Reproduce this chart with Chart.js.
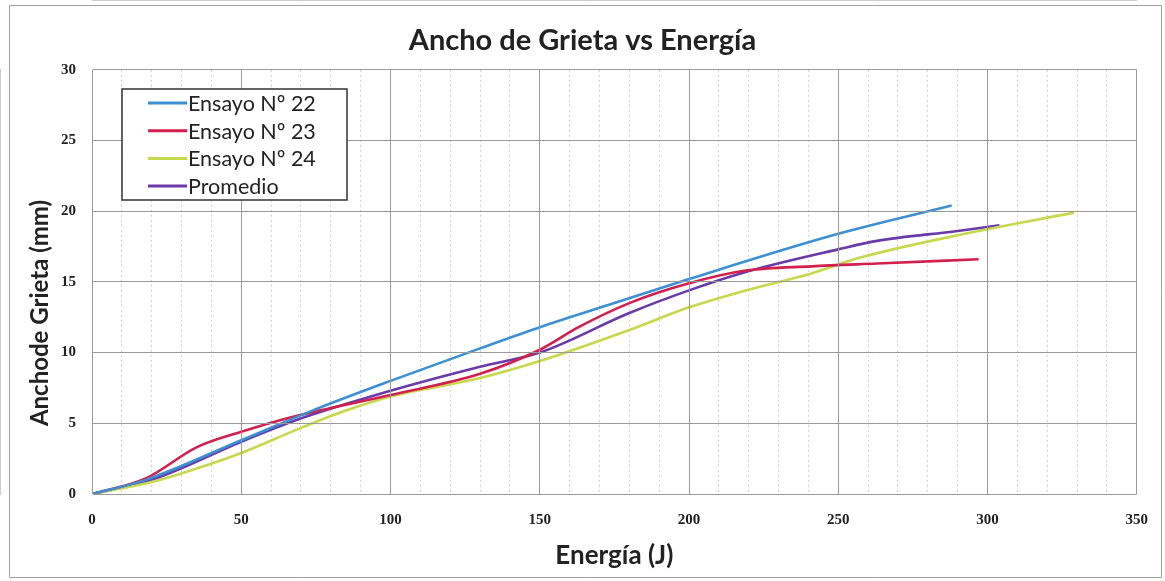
<!DOCTYPE html>
<html>
<head>
<meta charset="utf-8">
<script src="https://cdn.jsdelivr.net/npm/chart.js@4.4.0/dist/chart.umd.min.js"></script>
<style>
  html, body { margin: 0; padding: 0; background: #fff; overflow: hidden; }
  #wrap { width: 1165px; height: 581px; }
  canvas { display: block; }
</style>
</head>
<body>
<div id="wrap"><canvas id="c" width="1165" height="581"></canvas></div>
<script>
// ---- Data ----
const chartTitle = 'Ancho de Grieta vs Energía';
const xTitle = 'Energía (J)';
const yTitle = 'Anchode Grieta (mm)';
const seriesLabels = ['Ensayo Nº 22', 'Ensayo Nº 23', 'Ensayo Nº 24', 'Promedio'];
const seriesColors = ['#3d8fd4', '#d2204e', '#c6d84c', '#6a3aa8'];

const e22Energy = [0, 18, 50, 75, 100, 130, 150, 175, 200, 250, 288];
const e22Width  = [0, 1.0, 3.8, 6.0, 8.0, 10.3, 11.8, 13.5, 15.2, 18.4, 20.4];

const e23Energy = [0, 18, 35, 50, 68, 100, 130, 150, 163, 180, 200, 219, 241, 263, 297];
const e23Width  = [0, 1.1, 3.3, 4.4, 5.5, 7.0, 8.5, 10.2, 11.8, 13.5, 14.9, 15.8, 16.1, 16.3, 16.6];

const e24Energy = [0, 20, 35, 50, 68, 85, 100, 130, 150, 180, 200, 219, 241, 257, 290, 329];
const e24Width  = [0, 0.85, 1.8, 2.9, 4.5, 5.9, 6.9, 8.2, 9.4, 11.6, 13.2, 14.4, 15.6, 16.7, 18.3, 19.9];

const avgEnergy = [0, 20, 50, 68, 100, 130, 150, 180, 200, 219, 250, 263, 290, 304];
const avgWidth  = [0, 1.0, 3.7, 5.2, 7.3, 9.0, 10.0, 12.8, 14.4, 15.7, 17.3, 17.9, 18.6, 19.0];

const xMin = 0, xMax = 350, xStep = 50, xMinorStep = 10;
const yMin = 0, yMax = 30, yStep = 5;

// ---- Build datasets ----
function pts(xs, ys) { return xs.map((x, i) => ({ x: x, y: ys[i] })); }
const seriesPoints = [
  pts(e22Energy, e22Width),
  pts(e23Energy, e23Width),
  pts(e24Energy, e24Width),
  pts(avgEnergy, avgWidth)
];
const datasets = seriesLabels.map((lab, i) => ({
  label: lab,
  data: seriesPoints[i],
  borderColor: seriesColors[i],
  backgroundColor: seriesColors[i],
  borderWidth: 2.6,
  pointRadius: 0,
  cubicInterpolationMode: 'monotone',
  fill: false,
  xAxisID: 'x',
  yAxisID: 'y'
}));

// ---- Plugins ----
const frame = {
  id: 'frame',
  beforeDraw(chart) {
    const ctx = chart.ctx;
    ctx.save();
    ctx.fillStyle = '#ffffff';
    ctx.fillRect(0, 0, chart.width, chart.height);
    ctx.restore();
  },
  afterDraw(chart) {
    const ctx = chart.ctx;
    ctx.save();
    ctx.strokeStyle = '#a0a0a0';
    ctx.lineWidth = 1;
    ctx.beginPath();
    ctx.moveTo(9.5, 5.5);
    ctx.lineTo(1161.5, 5.5);
    ctx.lineTo(1161.5, 577.5);
    ctx.lineTo(9.5, 577.5);
    ctx.closePath();
    ctx.stroke();
    ctx.restore();
  }
};

const boxLegend = {
  id: 'boxLegend',
  afterDraw(chart) {
    const ctx = chart.ctx;
    const bx = 122, by = 89, bw = 225, bh = 111;
    ctx.save();
    ctx.fillStyle = '#ffffff';
    ctx.fillRect(bx, by, bw, bh);
    ctx.strokeStyle = '#333333';
    ctx.lineWidth = 1.5;
    ctx.strokeRect(bx, by, bw, bh);
    ctx.font = '21.5px Lato, "Liberation Sans", sans-serif';
    ctx.textBaseline = 'middle';
    ctx.textAlign = 'left';
    chart.data.datasets.forEach((ds, i) => {
      const cy = 103 + i * 27.7;
      ctx.strokeStyle = ds.borderColor;
      ctx.lineWidth = 3;
      ctx.beginPath();
      ctx.moveTo(148, cy);
      ctx.lineTo(187, cy);
      ctx.stroke();
      ctx.fillStyle = '#222222';
      ctx.fillText(ds.label, 188, cy + 1);
    });
    ctx.restore();
  }
};

// y-axis title drawn rotated at the reference's position
const yAxisTitle = {
  id: 'yAxisTitle',
  afterDraw(chart) {
    const ctx = chart.ctx;
    ctx.save();
    ctx.translate(40, 313);
    ctx.rotate(-Math.PI / 2);
    ctx.font = 'bold 24px Lato, "Liberation Sans", sans-serif';
    ctx.fillStyle = '#222222';
    ctx.textAlign = 'center';
    ctx.textBaseline = 'middle';
    ctx.fillText(yTitle, 0, 0);
    ctx.restore();
  }
};

const tickFont = { family: '"Liberation Serif", "DejaVu Serif", serif', size: 15, weight: 'bold' };

new Chart(document.getElementById('c'), {
  type: 'line',
  data: { datasets: datasets },
  options: {
    responsive: false,
    animation: false,
    layout: { padding: { left: 0, right: 0, top: 0, bottom: 0 } },
    plugins: {
      legend: { display: false },
      tooltip: { enabled: false },
      title: {
        display: true,
        text: chartTitle,
        color: '#222222',
        font: { family: 'Lato, "Liberation Sans", sans-serif', size: 29, weight: 'bold' },
        padding: { top: 23, bottom: 12 }
      }
    },
    scales: {
      x: {
        type: 'linear',
        position: 'bottom',
        min: xMin, max: xMax,
        ticks: { stepSize: xStep, font: tickFont, color: '#222', padding: 17, maxRotation: 0 },
        grid: { color: '#9a9a9a', lineWidth: 1, drawTicks: false, z: 1 },
        border: { display: true, color: '#9a9a9a' },
        title: { display: true, text: xTitle, color: '#222',
                 font: { family: 'Lato, "Liberation Sans", sans-serif', size: 26, weight: 'bold' },
                 padding: { top: 0, bottom: 10 } },
        afterFit(s) { s.height = 87; }
      },
      xMinor: {
        type: 'linear',
        position: 'bottom',
        min: xMin, max: xMax,
        ticks: { display: false, stepSize: xMinorStep },
        grid: { color: '#cfcfcf', lineWidth: 1, drawTicks: false },
        border: { display: false, dash: [2, 3] },
        afterFit(s) { s.height = 0; }
      },
      y: {
        type: 'linear',
        position: 'left',
        min: yMin, max: yMax,
        ticks: { stepSize: yStep, font: tickFont, color: '#222', padding: 16 },
        grid: { color: '#9a9a9a', lineWidth: 1, drawTicks: false, z: 1 },
        border: { display: true, color: '#9a9a9a' },
        title: { display: false, text: yTitle },
        afterFit(s) { s.width = 92; }
      },
      yRight: {
        type: 'linear',
        position: 'right',
        display: true,
        ticks: { display: false },
        grid: { display: false, drawOnChartArea: false, drawTicks: false },
        border: { display: false },
        afterFit(s) { s.width = 25; }
      }
    }
  },
  plugins: [frame, boxLegend, yAxisTitle]
});
</script>
</body>
</html>
